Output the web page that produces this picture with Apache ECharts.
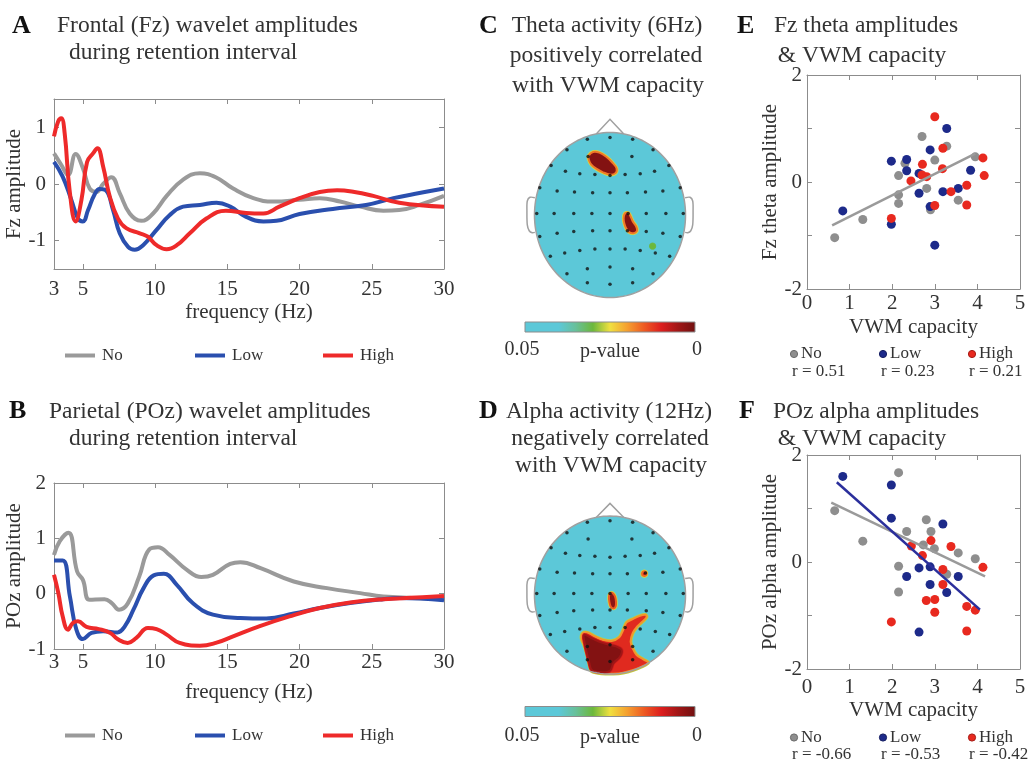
<!DOCTYPE html>
<html>
<head>
<meta charset="utf-8">
<script src="https://cdn.jsdelivr.net/npm/echarts@6/dist/echarts.min.js"></script>
<style>
  html, body { margin: 0; padding: 0; background: #fff; }
  #chart { width: 1030px; height: 763px; }
</style>
</head>
<body>
<div id="chart"></div>
<script>
// ---------- data ----------
// A: frontal (Fz) wavelet amplitude spectra, [frequency Hz, amplitude]
const fzNo = [[3,0.54],[3.5,0.34],[3.97,0.16],[4.5,0.53],[5.0,0.28],[5.47,-0.08],[5.93,-0.14],[6.4,0],[6.97,0.12],[7.55,-0.16],[8.24,-0.52],[9.05,-0.65],[9.86,-0.52],[10.8,-0.21],[11.9,0.07],[13.1,0.19],[14.2,0.12],[15.4,-0.08],[16.8,-0.25],[18.2,-0.31],[20.0,-0.28],[21.4,-0.25],[22.8,-0.31],[24.2,-0.40],[25.8,-0.47],[26.9,-0.46],[28.3,-0.37],[30,-0.21]];
const fzLow = [[3,0.39],[3.6,0.13],[4.2,-0.28],[4.66,-0.61],[5.0,-0.66],[5.36,-0.46],[5.8,-0.19],[6.16,-0.09],[6.58,-0.11],[7.09,-0.46],[7.55,-0.87],[8.13,-1.11],[8.59,-1.16],[9.17,-1.08],[10.1,-0.81],[11.0,-0.55],[11.94,-0.40],[13.1,-0.37],[14.25,-0.33],[15.2,-0.40],[16.3,-0.58],[17.5,-0.66],[18.4,-0.65],[20.0,-0.53],[22.3,-0.44],[24.6,-0.37],[26.5,-0.25],[28.3,-0.16],[30,-0.08]];
const fzHigh = [[3,0.84],[3.28,1.10],[3.5,1.16],[3.74,0.89],[4.08,-0.11],[4.5,-0.66],[4.9,-0.28],[5.29,0.39],[5.7,0.54],[6.0,0.63],[6.4,0.31],[6.86,-0.22],[7.43,-0.61],[8.0,-0.78],[8.94,-0.87],[9.5,-0.93],[10.1,-1.08],[10.8,-1.15],[11.5,-1.08],[12.4,-0.87],[13.55,-0.61],[14.9,-0.47],[16.3,-0.51],[17.5,-0.52],[18.6,-0.40],[20.0,-0.25],[21.4,-0.14],[22.6,-0.11],[23.8,-0.14],[25.1,-0.21],[26.9,-0.33],[30,-0.40]];

// B: parietal (POz) wavelet amplitude spectra
const pozNo = [[3,0.70],[3.4,0.95],[4.0,1.10],[4.6,0.40],[5.0,0.25],[5.47,-0.11],[6.5,-0.10],[7.0,-0.17],[7.5,-0.29],[8.1,-0.18],[8.9,0.31],[9.6,0.80],[10.2,0.84],[11.0,0.70],[12.2,0.43],[13.2,0.30],[14.0,0.34],[15.2,0.54],[15.9,0.57],[17.3,0.46],[19.6,0.22],[21.9,0.10],[24.2,0.01],[25.8,-0.05],[30,-0.09]];
const pozLow = [[3,0.60],[3.6,0.60],[4.1,-0.05],[4.55,-0.65],[5.0,-0.82],[5.6,-0.71],[6.4,-0.68],[7.4,-0.70],[7.9,-0.59],[8.5,-0.29],[9.2,0.10],[9.9,0.33],[10.6,0.36],[11.5,0.16],[12.6,-0.17],[14.0,-0.38],[15.9,-0.44],[17.7,-0.45],[19.6,-0.36],[21.4,-0.26],[23.5,-0.17],[25.8,-0.10],[26.9,-0.08],[30,-0.12]];
const pozHigh = [[3,0.34],[3.3,0.01],[3.6,-0.41],[3.97,-0.65],[4.3,-0.53],[4.66,-0.50],[5.25,-0.60],[6.1,-0.64],[6.9,-0.71],[7.4,-0.82],[8.1,-0.89],[8.7,-0.80],[9.5,-0.62],[10.1,-0.64],[10.8,-0.74],[11.7,-0.89],[13.1,-0.94],[14.2,-0.89],[15.4,-0.77],[17.2,-0.59],[19.3,-0.41],[21.4,-0.26],[23.5,-0.16],[25.8,-0.10],[28.1,-0.07],[30,-0.04]];

const freqTicks = [3, 5, 10, 15, 20, 25, 30];
const groups = ['No', 'Low', 'High'];

// E: Fz theta amplitude vs VWM capacity, [capacity, amplitude]
const thetaNo = [[0.65,-1.04],[1.31,-0.70],[2.15,0.12],[2.15,-0.24],[2.15,-0.40],[2.30,0.35],[2.70,0.85],[2.81,-0.12],[2.90,-0.52],[3.00,0.41],[3.28,0.67],[3.55,-0.34],[3.95,0.47]];
const thetaLow = [[0.84,-0.54],[1.98,0.39],[1.98,-0.79],[2.34,0.42],[2.34,0.21],[2.63,0.16],[2.63,-0.21],[2.89,0.60],[2.89,-0.46],[3.00,-1.18],[3.28,1.00],[3.19,-0.18],[3.55,-0.12],[3.84,0.22]];
const thetaHigh = [[3.00,1.22],[3.19,0.63],[2.71,0.33],[3.18,0.25],[2.70,0.13],[2.81,0.10],[2.44,0.02],[1.98,-0.68],[3.00,-0.44],[3.38,-0.18],[3.75,-0.06],[3.75,-0.43],[4.16,0.12],[4.13,0.45]];
const thetaFitNo = [[0.59,-0.81],[3.95,0.53]];
const thetaR = ['r = 0.51', 'r = 0.23', 'r = 0.21'];

// F: POz alpha amplitude vs VWM capacity
const alphaNo = [[0.65,0.96],[1.31,0.39],[2.15,1.67],[2.15,-0.08],[2.15,-0.56],[2.34,0.57],[2.80,0.79],[2.91,0.57],[2.73,0.32],[2.99,0.25],[3.28,-0.23],[3.55,0.17],[3.95,0.06]];
const alphaLow = [[0.84,1.60],[1.98,1.44],[1.98,0.82],[2.34,-0.27],[2.63,-0.11],[2.89,-0.09],[2.89,-0.42],[2.63,-1.31],[3.19,0.71],[3.28,-0.57],[3.55,-0.27]];
const alphaHigh = [[2.91,0.40],[2.45,0.30],[2.71,0.12],[3.38,0.29],[3.19,-0.14],[3.19,-0.42],[2.80,-0.72],[3.00,-0.70],[3.00,-0.94],[1.98,-1.12],[3.75,-0.83],[3.95,-0.90],[3.75,-1.29],[4.13,-0.10]];
const alphaFitNo = [[0.57,1.11],[4.18,-0.27]];
const alphaFitLow = [[0.70,1.49],[4.06,-0.89]];
const alphaR = ['r = -0.66', 'r = -0.53', 'r = -0.42'];

// C / D: electrode montage on the unit head (x toward right ear, y toward nose)
const electrodes = [
  [-0.30,0.92],[0,0.94],[0.30,0.92],
  [-0.57,0.79],[0.57,0.79],
  [-0.29,0.71],[0.29,0.71],
  [-0.78,0.60],[0.78,0.60],
  [-0.59,0.53],[0.59,0.53],
  [-0.40,0.50],[-0.20,0.49],[0,0.48],[0.20,0.49],[0.40,0.50],
  [-0.93,0.33],[0.93,0.33],
  [-0.70,0.29],[-0.47,0.28],[-0.23,0.27],[0,0.27],[0.23,0.27],[0.47,0.28],[0.70,0.29],
  [-0.97,0.02],[-0.74,0.02],[-0.48,0.02],[-0.24,0.02],[0,0.02],[0.24,0.02],[0.48,0.02],[0.74,0.02],[0.97,0.02],
  [-0.93,-0.26],[-0.70,-0.22],[-0.48,-0.20],[-0.23,-0.19],[0,-0.19],[0.23,-0.19],[0.48,-0.20],[0.70,-0.22],[0.93,-0.26],
  [-0.79,-0.50],[-0.60,-0.46],[-0.40,-0.43],[-0.20,-0.41],[0,-0.41],[0.20,-0.41],[0.40,-0.43],[0.60,-0.46],[0.79,-0.50],
  [-0.57,-0.71],[-0.30,-0.65],[0,-0.63],[0.30,-0.65],[0.57,-0.71],
  [-0.30,-0.82],[0,-0.84],[0.30,-0.82]
];
const noseOutline = [[-0.18,0.985],[0,1.16],[0.18,0.985]];
const earOutline = [[-0.995,0.21],[-1.06,0.215],[-1.095,0.17],[-1.10,0.05],[-1.095,-0.12],[-1.07,-0.19],[-1.03,-0.215],[-0.995,-0.21]];

// Significant clusters: outline on the unit head and p-values [edge, core, inner rim]
const thetaClusters = [
  { outline: [[-0.280,0.722],[-0.224,0.765],[-0.141,0.757],[-0.050,0.707],[0.027,0.640],[0.086,0.567],[0.072,0.508],[0,0.490],[-0.092,0.518],[-0.182,0.562],[-0.250,0.615],[-0.282,0.676]], p: [0.026,0.002,0.017] },
  { outline: [[0.195,0.016],[0.244,0.026],[0.277,-0.026],[0.304,-0.081],[0.348,-0.142],[0.357,-0.192],[0.308,-0.220],[0.253,-0.206],[0.216,-0.164],[0.190,-0.101],[0.181,-0.040]], p: [0.026,0.002,0.017] },
  { outline: [[0.589,-0.377],[0.576,-0.357],[0.552,-0.357],[0.539,-0.377],[0.552,-0.397],[0.576,-0.397]], p: [0.031,0.030,0.030] }
];
const alphaClusters = [
  { outline: [[0.484,0.271],[0.469,0.297],[0.439,0.297],[0.424,0.271],[0.439,0.245],[0.469,0.245]], p: [0.026,0.008,0.016] },
  { outline: [[0,0.017],[0.035,0.025],[0.066,-0.017],[0.079,-0.081],[0.075,-0.144],[0.044,-0.169],[0.009,-0.144],[-0.009,-0.081],[-0.013,-0.017]], p: [0.026,0.003,0.015] },
  { outline: [[-0.361,-0.483],[-0.300,-0.475],[-0.198,-0.525],[-0.088,-0.568],[0.022,-0.581],[0.123,-0.534],[0.176,-0.441],[0.220,-0.347],[0.300,-0.305],[0.396,-0.263],[0.471,-0.250],[0.485,-0.280],[0.432,-0.335],[0.361,-0.398],[0.300,-0.483],[0.273,-0.589],[0.300,-0.674],[0.352,-0.758],[0.441,-0.814],[0.507,-0.856],[0.419,-0.907],[0.308,-0.949],[0.176,-0.983],[0.044,-0.996],[-0.110,-0.992],[-0.242,-0.966],[-0.273,-0.886],[-0.300,-0.771],[-0.344,-0.631],[-0.379,-0.547]], p: [0.027,0.011,0.019] },
  { outline: [[-0.344,-0.504],[-0.242,-0.547],[-0.110,-0.602],[0,-0.631],[0.088,-0.653],[0.154,-0.695],[0.132,-0.780],[0.044,-0.864],[0,-0.958],[-0.132,-0.975],[-0.242,-0.949],[-0.273,-0.864],[-0.300,-0.758],[-0.330,-0.631]], p: [0.009,0.002,0.005] }
];

// p-value colour scale, p = 0 ... 0.05
const pScale = ['#701010','#a01616','#dc1e1e','#ee5a22','#f5a030','#f0e040','#6cb83c','#68c09a','#5cc8d8','#5cc8d8','#5cc8d8'];

// ---------- styling ----------
const SERIF = '"Liberation Serif","Times New Roman",serif';
const INK = '#333333';
const FRAME = '#8c8c8c';
const lineColors = { No: '#9a9a9a', Low: '#2a4fae', High: '#ee2a2a' };
const dotColors = { No: '#8e8e8e', Low: '#1d2a8a', High: '#e8291f' };
const dotEdges = { No: '#6a6a6a', Low: '#141c60', High: '#a51a14' };

const grids = [], xAxes = [], yAxes = [], series = [], graphics = [], legends = [];

function addGrid(rect) {
  grids.push(Object.assign({ show: false, containLabel: false, outerBoundsMode: 'none' }, rect));
  return grids.length - 1;
}

const axisFont = { fontFamily: SERIF, fontSize: 21, color: INK };

// boxed axes with inward ticks on all four sides
function framedAxes(gi, xs, ys) {
  const line = { show: true, onZero: false, lineStyle: { color: FRAME, width: 1 } };
  const tick = v => ({ show: true, inside: true, length: 5, customValues: v, lineStyle: { color: FRAME, width: 1 } });
  xAxes.push(
    { type: 'value', gridIndex: gi, position: 'bottom', min: xs.min, max: xs.max,
      axisLine: line, axisTick: tick(xs.ticks), splitLine: { show: false },
      axisLabel: Object.assign({ customValues: xs.labels, margin: xs.margin, showMinLabel: true, showMaxLabel: true }, axisFont),
      name: xs.name, nameLocation: 'middle', nameGap: xs.nameGap, nameTextStyle: axisFont },
    { type: 'value', gridIndex: gi, position: 'top', min: xs.min, max: xs.max,
      axisLine: line, axisTick: tick(xs.ticks), axisLabel: { show: false }, splitLine: { show: false } }
  );
  yAxes.push(
    { type: 'value', gridIndex: gi, position: 'left', min: ys.min, max: ys.max,
      axisLine: line, axisTick: tick(ys.ticks), splitLine: { show: false },
      axisLabel: Object.assign({ customValues: ys.labels, margin: ys.margin, showMinLabel: true, showMaxLabel: true }, axisFont),
      name: ys.name, nameLocation: 'middle', nameGap: ys.nameGap, nameTextStyle: axisFont },
    { type: 'value', gridIndex: gi, position: 'right', min: ys.min, max: ys.max,
      axisLine: line, axisTick: tick(ys.ticks), axisLabel: { show: false }, splitLine: { show: false } }
  );
  return [xAxes.length - 2, yAxes.length - 2];
}

function hiddenAxes(gi) {
  xAxes.push({ type: 'value', gridIndex: gi, min: -1.25, max: 1.25, show: false });
  yAxes.push({ type: 'value', gridIndex: gi, min: -1.25, max: 1.25, show: false });
  return [xAxes.length - 1, yAxes.length - 1];
}

// ---------- A & B: spectra ----------
function spectrumPanel(rect, yRange, data, yName, xMargin, legendTop) {
  const gi = addGrid(rect);
  const [xi, yi] = framedAxes(gi,
    { min: 3, max: 30, ticks: freqTicks, labels: freqTicks, margin: xMargin, name: 'frequency (Hz)', nameGap: 33 },
    { min: yRange.min, max: yRange.max, ticks: yRange.ticks, labels: yRange.ticks, margin: 8, name: yName, nameGap: 22 });
  groups.forEach((g, k) => {
    series.push({
      type: 'line', name: g, data: data[k], xAxisIndex: xi, yAxisIndex: yi,
      symbol: 'none', showSymbol: false, smooth: 0.45,
      lineStyle: { color: lineColors[g], width: 4, join: 'round' }, itemStyle: { color: lineColors[g] },
      silent: true, z: 3 + k
    });
  });
  [60, 190, 318].forEach((left, k) => {
    legends.push({
      data: [groups[k]], left, top: legendTop, icon: 'rect', itemWidth: 30, itemHeight: 4,
      selectedMode: false, textStyle: { fontFamily: SERIF, fontSize: 17, color: INK, padding: [0, 0, 0, 2] }
    });
  });
}

spectrumPanel({ left: 54, top: 99, width: 390, height: 170 },
  { min: -1.5, max: 1.5, ticks: [-1, 0, 1] }, [fzNo, fzLow, fzHigh], 'Fz amplitude', 10, 342);
spectrumPanel({ left: 54, top: 483, width: 390, height: 166 },
  { min: -1, max: 2, ticks: [-1, 0, 1, 2] }, [pozNo, pozLow, pozHigh], 'POz amplitude', 3, 722);

// ---------- E & F: scatter vs capacity ----------
function scatterPanel(rect, data, fits, yName, xMargin, nameGap, rLabels, legendY) {
  const gi = addGrid(rect);
  const [xi, yi] = framedAxes(gi,
    { min: 0, max: 5, ticks: [0, 1, 2, 3, 4, 5], labels: [0, 1, 2, 3, 4, 5], margin: xMargin, name: 'VWM capacity', nameGap },
    { min: -2, max: 2, ticks: [-2, -1, 0, 1, 2], labels: [-2, 0, 2], margin: 5, name: yName, nameGap: 20 });
  groups.forEach((g, k) => {
    series.push({
      type: 'scatter', name: g, data: data[k], xAxisIndex: xi, yAxisIndex: yi,
      symbolSize: 9, itemStyle: { color: dotColors[g], opacity: 1 }, silent: true, z: 3
    });
  });
  fits.forEach(f => {
    series.push({
      type: 'line', name: f.group, data: f.data, xAxisIndex: xi, yAxisIndex: yi,
      symbol: 'none', showSymbol: false,
      lineStyle: { color: f.color, width: 2.5 }, itemStyle: { color: f.color }, silent: true, z: 5
    });
  });
  const dotX = [794, 883, 972];
  const rX = [792, 881, 969];
  groups.forEach((g, k) => {
    graphics.push({ type: 'circle', shape: { cx: dotX[k], cy: legendY, r: 3.6 },
      style: { fill: dotColors[g], stroke: dotEdges[g], lineWidth: 1 }, silent: true });
    graphics.push({ type: 'text', x: dotX[k] + 7, y: legendY,
      style: { text: g, fontFamily: SERIF, fontSize: 17, fill: INK, align: 'left', verticalAlign: 'middle' }, silent: true });
    graphics.push({ type: 'text', x: rX[k], y: legendY + 17.5,
      style: { text: rLabels[k], fontFamily: SERIF, fontSize: 17, fill: INK, align: 'left', verticalAlign: 'middle' }, silent: true });
  });
}

scatterPanel({ left: 807, top: 75, width: 213, height: 214 }, [thetaNo, thetaLow, thetaHigh],
  [{ group: 'No', data: thetaFitNo, color: '#9a9a9a' }], 'Fz theta amplitude', 4, 28, thetaR, 354);
scatterPanel({ left: 807, top: 455, width: 213, height: 214 }, [alphaNo, alphaLow, alphaHigh],
  [{ group: 'No', data: alphaFitNo, color: '#9a9a9a' }, { group: 'Low', data: alphaFitLow, color: '#2b2f9c' }],
  'POz alpha amplitude', 8, 31, alphaR, 737.5);

// ---------- C & D: scalp maps ----------
const mappedSeries = [];

function ellipsePoints(api) {
  const pts = [];
  for (let i = 0; i < 144; i++) {
    const t = (i / 144) * Math.PI * 2;
    pts.push(api.coord([Math.cos(t), Math.sin(t)]));
  }
  return pts;
}

function scalpPanel(rect, clusters, barTop, labelY) {
  const gi = addGrid(rect);
  const [xi, yi] = hiddenAxes(gi);

  // scalp background at the non-significant end of the scale
  mappedSeries.push(series.length);
  series.push({
    type: 'custom', xAxisIndex: xi, yAxisIndex: yi, silent: true, z: 2,
    data: [[0, 0, 0.05]],
    renderItem: (params, api) => ({ type: 'polygon', shape: { points: ellipsePoints(api) },
      style: { fill: api.visual('color') } })
  });

  // clusters: edge halo, core fill, inner rim
  const items = [];
  clusters.forEach((c, i) => {
    items.push([i, 0, c.p[0]], [i, 1, c.p[1]], [i, 2, c.p[2]]);
  });
  mappedSeries.push(series.length);
  series.push({
    type: 'custom', xAxisIndex: xi, yAxisIndex: yi, silent: true, z: 3,
    data: items,
    renderItem: (params, api) => {
      const pts = clusters[api.value(0)].outline.map(p => api.coord(p));
      const color = api.visual('color');
      const layer = api.value(1);
      const shape = { points: pts, smooth: 0.35 };
      if (layer === 0) return { type: 'polygon', shape, style: { fill: color, stroke: color, lineWidth: 3.5, lineJoin: 'round' } };
      if (layer === 1) return { type: 'polygon', shape, style: { fill: color } };
      return { type: 'polygon', shape, style: { fill: 'none', stroke: color, lineWidth: 2, lineJoin: 'round' } };
    }
  });

  // head outline, nose and ears
  series.push({
    type: 'custom', xAxisIndex: xi, yAxisIndex: yi, silent: true, z: 4,
    data: [[0, 0]],
    renderItem: (params, api) => {
      const stroke = { stroke: '#a0a0a0', lineWidth: 1.5, fill: 'none' };
      const mirror = earOutline.map(p => [-p[0], p[1]]);
      return { type: 'group', children: [
        { type: 'polygon', shape: { points: ellipsePoints(api) }, style: stroke },
        { type: 'polyline', shape: { points: noseOutline.map(p => api.coord(p)) }, style: stroke },
        { type: 'polyline', shape: { points: earOutline.map(p => api.coord(p)), smooth: 0.3 }, style: stroke },
        { type: 'polyline', shape: { points: mirror.map(p => api.coord(p)), smooth: 0.3 }, style: stroke }
      ] };
    }
  });

  // electrodes
  series.push({
    type: 'scatter', xAxisIndex: xi, yAxisIndex: yi, data: electrodes, symbolSize: 3.5,
    itemStyle: { color: '#111' }, silent: true, z: 5
  });

  // colour bar
  const stops = pScale.slice().reverse().map((c, i, arr) => ({ offset: i / (arr.length - 1), color: c }));
  graphics.push({ type: 'rect', shape: { x: 525, y: barTop, width: 170, height: 10 },
    style: { fill: new echarts.graphic.LinearGradient(0, 0, 1, 0, stops), stroke: '#8c8c8c', lineWidth: 1 }, silent: true });
  const lab = (t, x, y) => graphics.push({ type: 'text', x, y,
    style: { text: t, fontFamily: SERIF, fontSize: 20, fill: INK, align: 'center', verticalAlign: 'middle' }, silent: true });
  lab('0.05', 522, labelY);
  lab('p-value', 610, labelY + 2);
  lab('0', 697, labelY);
}

scalpPanel({ left: 515.6, top: 111.9, width: 188.8, height: 206.3 }, thetaClusters, 322, 350);
scalpPanel({ left: 515.6, top: 496.3, width: 188.8, height: 197.5 }, alphaClusters, 706.5, 736);

// ---------- titles and panel letters ----------
function txt(t, x, y, align, extra) {
  graphics.push({ type: 'text', x, y, silent: true,
    style: Object.assign({ text: t, fontFamily: SERIF, fontSize: 23.5, fill: INK, align, verticalAlign: 'middle' }, extra || {}) });
}
const bold = { fontWeight: 'bold', fontSize: 26, fill: '#111' };
txt('A', 12, 26.5, 'left', bold);
txt('B', 9, 411.5, 'left', bold);
txt('C', 479, 26.5, 'left', bold);
txt('D', 479, 411.5, 'left', bold);
txt('E', 737, 26.5, 'left', bold);
txt('F', 739, 411.5, 'left', bold);

txt('Frontal (Fz) wavelet amplitudes', 57, 25.5, 'left');
txt('during retention interval', 69, 52.5, 'left');
txt('Parietal (POz) wavelet amplitudes', 49, 412, 'left');
txt('during retention interval', 69, 439, 'left');

txt('Theta activity (6Hz)', 607, 25.5, 'center');
txt('positively correlated', 606, 55.5, 'center');
txt('with VWM capacity', 608, 85.5, 'center');
txt('Alpha activity (12Hz)', 609, 412, 'center');
txt('negatively correlated', 610, 439, 'center');
txt('with VWM capacity', 611, 465.5, 'center');

txt('Fz theta amplitudes', 866, 25.5, 'center');
txt('& VWM capacity', 862, 55.5, 'center');
txt('POz alpha amplitudes', 876, 412, 'center');
txt('& VWM capacity', 862, 439, 'center');

// ---------- chart ----------
const chart = echarts.init(document.getElementById('chart'), null, { renderer: 'canvas' });
chart.setOption({
  animation: false,
  backgroundColor: '#ffffff',
  grid: grids,
  xAxis: xAxes,
  yAxis: yAxes,
  legend: legends,
  visualMap: {
    type: 'continuous', show: false, min: 0, max: 0.05, dimension: 2,
    seriesIndex: mappedSeries, inRange: { color: pScale }
  },
  graphic: graphics,
  series: series
});
</script>
</body>
</html>
